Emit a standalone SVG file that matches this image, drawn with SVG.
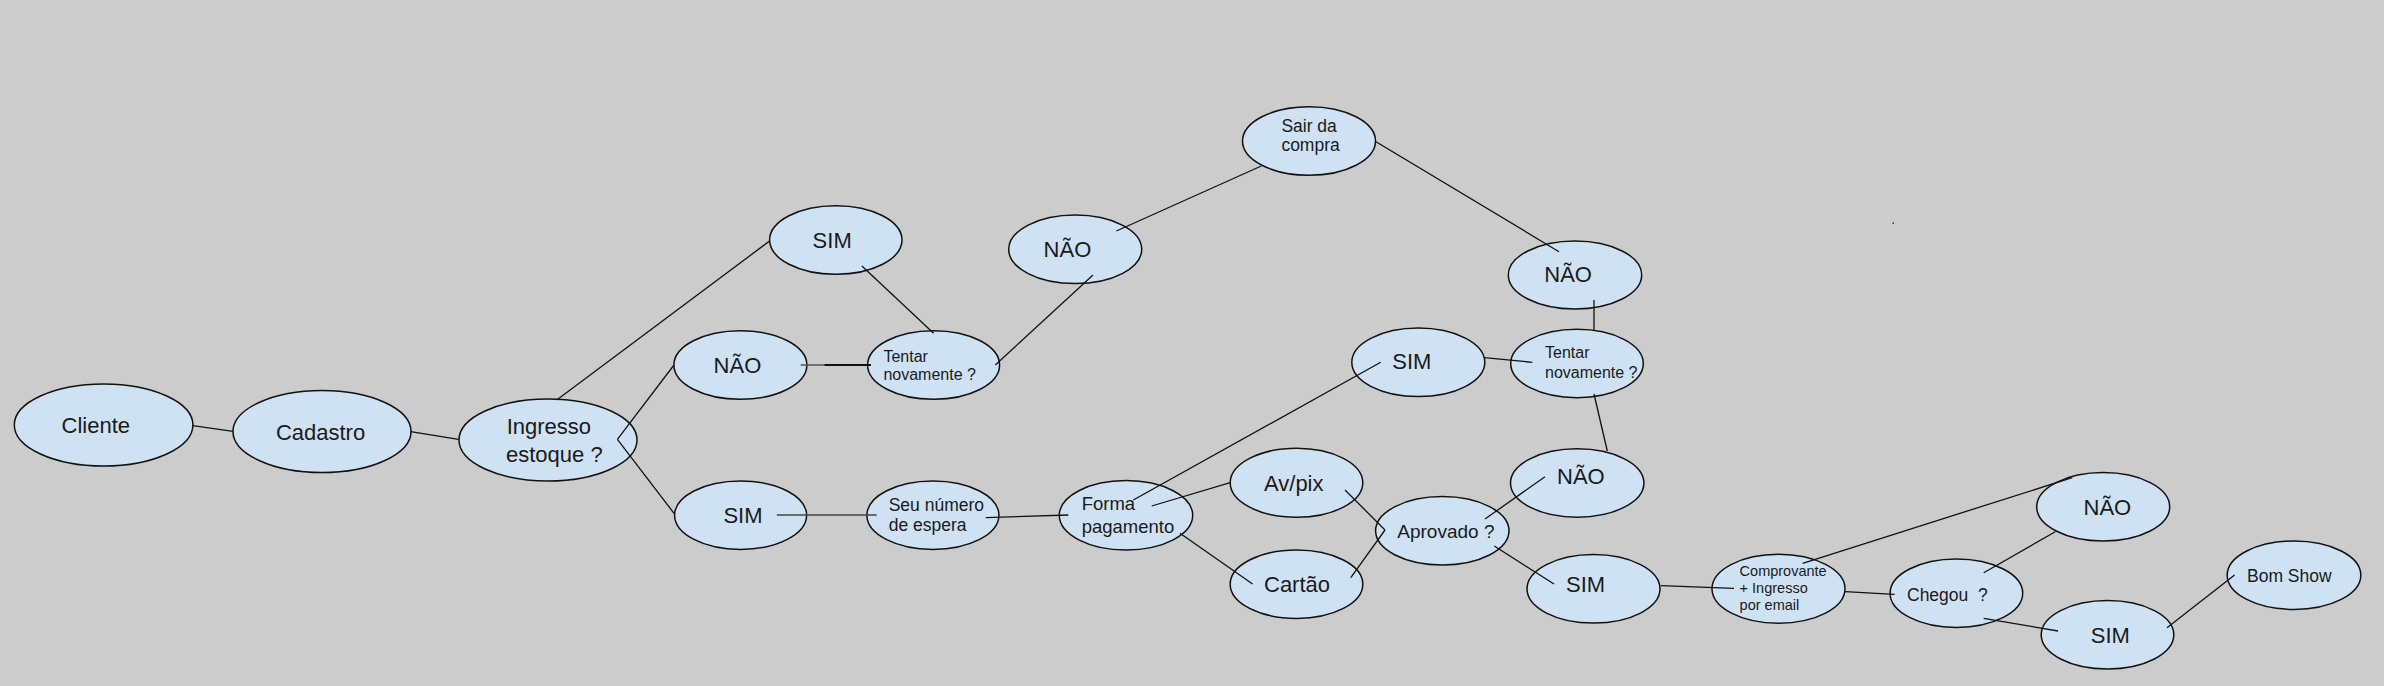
<svg xmlns="http://www.w3.org/2000/svg" width="2384" height="686" viewBox="0 0 2384 686">
<style>
.n ellipse{fill:#cfe2f3;stroke:#111;stroke-width:1.5}
.n text{font-family:"Liberation Sans",Arial,sans-serif;fill:#1a1a1a;white-space:pre}
.l{font-size:22px}
.m{font-size:17.5px}
.s{font-size:16px}
.e line{stroke:#111;stroke-width:1.3;fill:none}
</style>
<rect x="0" y="0" width="2384" height="686" fill="#cccccc"/>
<g id="nodes" class="n">
<g id="cliente"><ellipse cx="103.6" cy="425" rx="89.3" ry="41"/><text class="l" x="61.6" y="433.3">Cliente</text></g>
<g id="cadastro"><ellipse cx="322" cy="431.5" rx="89" ry="41"/><text class="l" x="275.9" y="440">Cadastro</text></g>
<g id="ingresso"><ellipse cx="548" cy="440" rx="89" ry="41"/><text class="l" x="506.7" y="434">Ingresso</text><text class="l" x="506" y="462">estoque ?</text></g>
<g id="sim1"><ellipse cx="835.8" cy="240" rx="66.2" ry="34.3"/><text class="l" x="812.6" y="247.7">SIM</text></g>
<g id="nao1"><ellipse cx="740.4" cy="365" rx="66.5" ry="34.3"/><text class="l" x="713.6" y="372.7">NÃO</text></g>
<g id="tentar1"><ellipse cx="933.6" cy="365" rx="66" ry="34.3"/><text class="s" x="883.4" y="361.7">Tentar</text><text class="s" x="883.4" y="380">novamente ?</text></g>
<g id="nao2"><ellipse cx="1075.2" cy="249.3" rx="66.5" ry="34.3"/><text class="l" x="1043.6" y="256.7">NÃO</text></g>
<g id="sair"><ellipse cx="1309" cy="141" rx="66.5" ry="34.3"/><text class="m" x="1281.4" y="131.7">Sair da</text><text class="m" x="1281.4" y="151">compra</text></g>
<g id="sim2"><ellipse cx="740.6" cy="515.2" rx="66" ry="34.2"/><text class="l" x="723.4" y="522.7">SIM</text></g>
<g id="seu"><ellipse cx="932.9" cy="515.2" rx="66" ry="34.2"/><text class="m" x="888.7" y="511">Seu número</text><text class="m" x="888.7" y="531">de espera</text></g>
<g id="forma"><ellipse cx="1126" cy="515.3" rx="66.7" ry="34.7"/><text style="font-size:18.5px" x="1081.7" y="510">Forma</text><text style="font-size:18.5px" x="1081.7" y="533.3">pagamento</text></g>
<g id="avpix"><ellipse cx="1296.5" cy="482.8" rx="66.3" ry="34.5"/><text class="l" x="1264" y="490.7">Av/pix</text></g>
<g id="cartao"><ellipse cx="1296.5" cy="584.2" rx="66.3" ry="34.2"/><text class="l" x="1264" y="591.7">Cartão</text></g>
<g id="aprovado"><ellipse cx="1442.3" cy="530.8" rx="66.7" ry="34.2"/><text style="font-size:19px" x="1397.3" y="537.7">Aprovado ?</text></g>
<g id="sim3"><ellipse cx="1418.3" cy="362.3" rx="66.5" ry="34.3"/><text class="l" x="1392.3" y="369.3">SIM</text></g>
<g id="tentar2"><ellipse cx="1577" cy="363.5" rx="66.3" ry="34.2"/><text class="s" x="1545" y="358.3">Tentar</text><text class="s" x="1545" y="377.7">novamente ?</text></g>
<g id="nao3"><ellipse cx="1575" cy="275" rx="66.7" ry="34"/><text class="l" x="1544.3" y="282.3">NÃO</text></g>
<g id="nao4"><ellipse cx="1577.2" cy="483" rx="66.7" ry="34.2"/><text class="l" x="1557" y="484">NÃO</text></g>
<g id="sim4"><ellipse cx="1593.5" cy="588.8" rx="66.5" ry="34.3"/><text class="l" x="1566" y="592">SIM</text></g>
<g id="comprovante"><ellipse cx="1778.5" cy="588.8" rx="66.5" ry="34.5"/><text style="font-size:14.5px" x="1739.6" y="575.7">Comprovante</text><text style="font-size:14.5px" x="1739.6" y="593.3">+ Ingresso</text><text style="font-size:14.5px" x="1739.6" y="610">por email</text></g>
<g id="chegou"><ellipse cx="1956.4" cy="593.2" rx="66.3" ry="34.2"/><text class="m" x="1907" y="600.7">Chegou  ?</text></g>
<g id="nao5"><ellipse cx="2103.2" cy="506.8" rx="66.5" ry="34.2"/><text class="l" x="2083.5" y="515">NÃO</text></g>
<g id="sim5"><ellipse cx="2107.5" cy="634.8" rx="66.3" ry="34.2"/><text class="l" x="2090.8" y="642.7">SIM</text></g>
<g id="bomshow"><ellipse cx="2294" cy="575.2" rx="66.8" ry="34.2"/><text class="m" x="2247" y="581.7">Bom Show</text></g>
</g>
<g id="connectors" class="e">
<line x1="192.9" y1="425.7" x2="233" y2="431.3"/>
<line x1="410.7" y1="431.7" x2="458.5" y2="439.3"/>
<line x1="556.7" y1="400" x2="769.6" y2="241"/>
<line x1="617.4" y1="439.3" x2="674" y2="365"/>
<line x1="617.4" y1="439.3" x2="674" y2="513.3"/>
<line x1="861.9" y1="266" x2="933.6" y2="333.3"/>
<line x1="800.7" y1="365" x2="871" y2="365" style="stroke:#555"/>
<line x1="824.6" y1="365" x2="871" y2="365" style="stroke-width:2"/>
<line x1="995.3" y1="365" x2="1093" y2="275"/>
<line x1="1116.4" y1="231" x2="1261.3" y2="166"/>
<line x1="1376" y1="141.7" x2="1559" y2="251.7"/>
<line x1="1594" y1="300" x2="1594" y2="330"/>
<line x1="1484.3" y1="357.7" x2="1532.3" y2="362.3"/>
<line x1="1133.3" y1="500" x2="1380.7" y2="362.3"/>
<line x1="1594" y1="394" x2="1607.3" y2="451"/>
<line x1="776.8" y1="515" x2="876.7" y2="515" style="stroke:#444"/>
<line x1="985.7" y1="517.7" x2="1068.3" y2="515"/>
<line x1="1151.7" y1="506" x2="1230.2" y2="482.7"/>
<line x1="1180" y1="533.3" x2="1252.6" y2="584"/>
<line x1="1345" y1="490" x2="1385" y2="530"/>
<line x1="1350.8" y1="577.7" x2="1385" y2="530"/>
<line x1="1485" y1="519" x2="1545" y2="476.7"/>
<line x1="1494.3" y1="546" x2="1554" y2="584"/>
<line x1="1660.7" y1="585.7" x2="1734" y2="588.3"/>
<line x1="1802.7" y1="563.3" x2="2072.2" y2="477.7"/>
<line x1="1845" y1="591.7" x2="1894.6" y2="594.3"/>
<line x1="1983.7" y1="572.7" x2="2055.3" y2="531.7"/>
<line x1="1983.7" y1="618.3" x2="2058.1" y2="631"/>
<line x1="2167" y1="627.7" x2="2234.6" y2="575"/>
</g>
<rect x="1892.5" y="222.5" width="1.5" height="1.5" fill="#333"/>
</svg>
